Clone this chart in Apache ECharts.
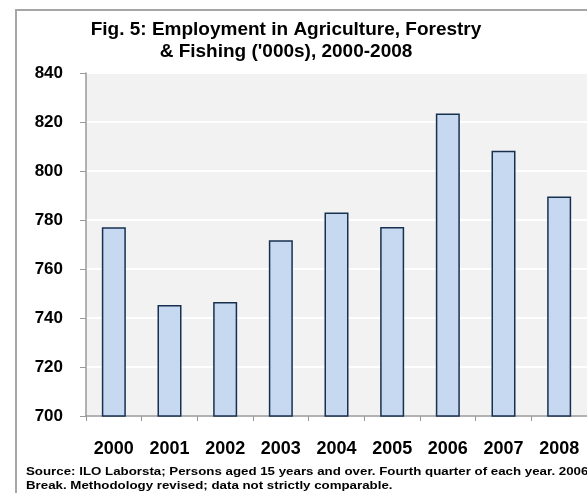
<!DOCTYPE html>
<html>
<head>
<meta charset="utf-8">
<script src="https://cdn.jsdelivr.net/npm/echarts@6/dist/echarts.min.js"></script>
<style>
  html, body { margin: 0; padding: 0; background: #fff; }
  #chart { width: 587px; height: 493px; }
</style>
</head>
<body>
<div id="chart"></div>
<script>
// 数据
var years = ['2000', '2001', '2002', '2003', '2004', '2005', '2006', '2007', '2008'];
var employment = [777, 745.3, 746.5, 771.7, 783.1, 777.1, 823.5, 808.3, 789.6];
var yTicks = [700, 720, 740, 760, 780, 800, 820, 840];

var fontFamily = 'Arial, "Liberation Sans", sans-serif';

var chart = echarts.init(document.getElementById('chart'));

var option = {
  animation: false,
  backgroundColor: '#fff',
  graphic: [{
    // outer frame (cropped on the right and bottom)
    type: 'rect',
    shape: { x: 16, y: 10, width: 620, height: 520 },
    style: { fill: 'none', stroke: '#a6a6a6', lineWidth: 2 },
    z: -1
  }, {
    type: 'text',
    x: 286,
    y: 41,
    style: {
      text: "Fig. 5: Employment in Agriculture, Forestry\n& Fishing ('000s), 2000-2008",
      textAlign: 'center',
      textVerticalAlign: 'middle',
      fontFamily: fontFamily,
      fontSize: 19,
      fontWeight: 'bold',
      lineHeight: 22,
      fill: '#000'
    }
  }, {
    // source note
    type: 'text',
    x: 26,
    y: 479,
    scaleY: 0.86,
    style: {
      text: 'Source: ILO Laborsta; Persons aged 15 years and over. Fourth quarter of each year. 2006\nBreak. Methodology revised; data not strictly comparable.',
      textAlign: 'left',
      textVerticalAlign: 'middle',
      fontFamily: fontFamily,
      fontSize: 13.3,
      fontWeight: 'bold',
      lineHeight: 15.5,
      fill: '#000'
    }
  }],
  grid: {
    left: 86,
    top: 73,
    right: -5,
    bottom: 77,
    show: true,
    backgroundColor: '#f2f2f2',
    borderWidth: 0
  },
  xAxis: {
    type: 'category',
    data: years,
    axisLine: { lineStyle: { color: '#999', width: 1.5 } },
    axisTick: { show: true, length: 5, lineStyle: { color: '#999' } },
    axisLabel: {
      margin: 24,
      color: '#000',
      fontFamily: fontFamily,
      fontSize: 18,
      fontWeight: 'bold'
    },
    splitLine: { show: false }
  },
  yAxis: {
    type: 'value',
    min: yTicks[0],
    max: yTicks[yTicks.length - 1],
    interval: 20,
    axisLine: { show: true, lineStyle: { color: '#999', width: 1.5 } },
    axisTick: { show: true, length: 6, lineStyle: { color: '#999' } },
    axisLabel: {
      margin: 23,
      color: '#000',
      fontFamily: fontFamily,
      fontSize: 17,
      fontWeight: 'bold'
    },
    splitLine: { show: true, lineStyle: { color: '#fff', width: 2 } }
  },
  series: [{
    type: 'bar',
    data: employment,
    barWidth: 24,
    itemStyle: {
      color: '#c6d9f1',
      borderColor: '#17304f',
      borderWidth: 1.5
    }
  }]
};

chart.setOption(option);
</script>
</body>
</html>
